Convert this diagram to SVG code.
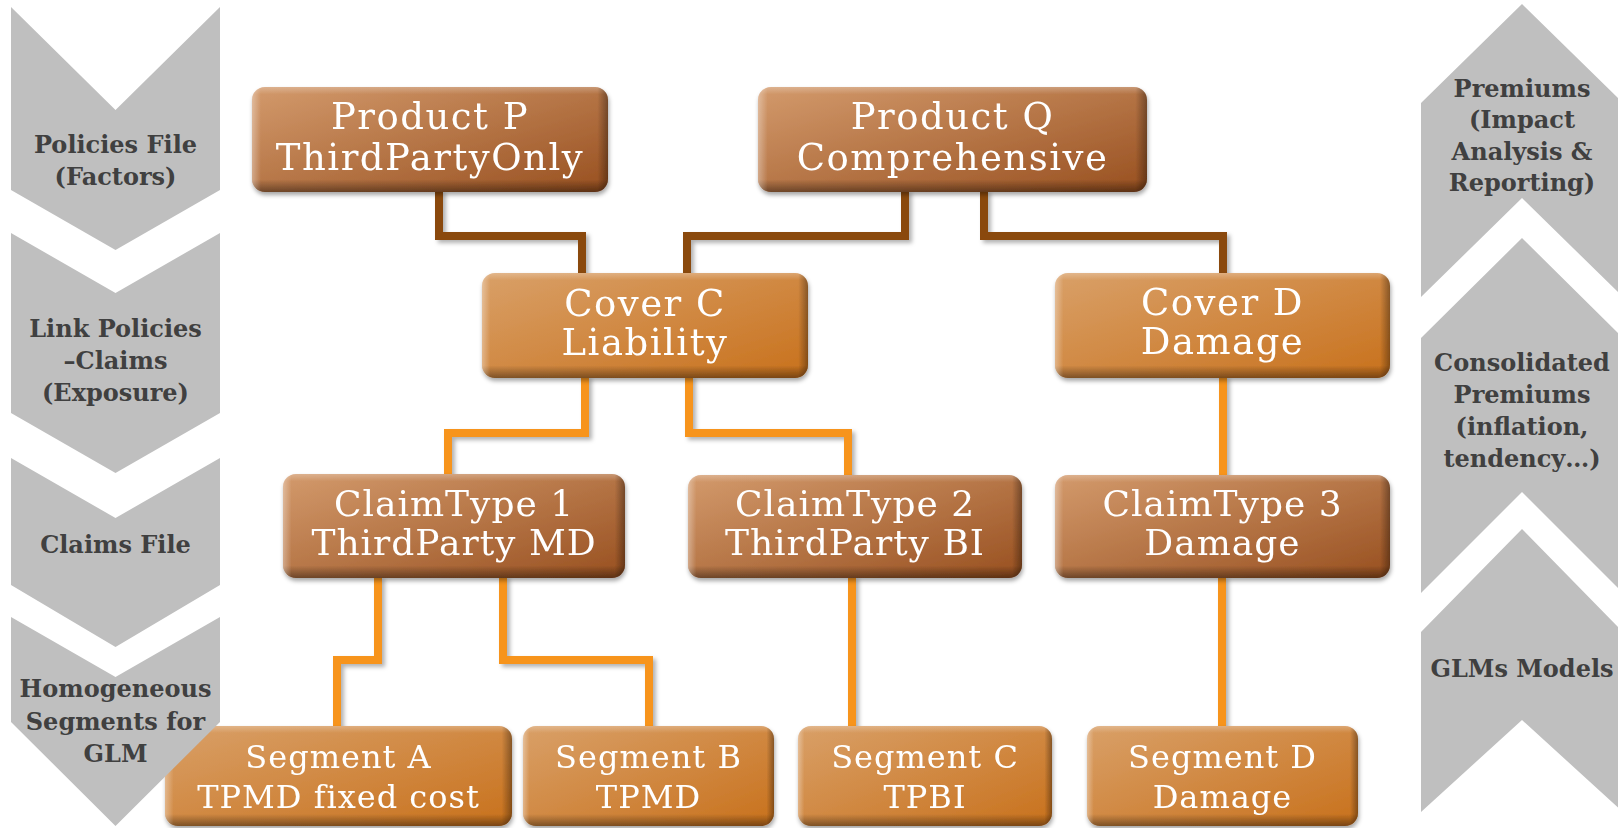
<svg xmlns="http://www.w3.org/2000/svg" width="1618" height="828" viewBox="0 0 1618 828">
  <defs>
    <linearGradient id="gBrown" x1="0" y1="0" x2="1" y2="1">
      <stop offset="0" stop-color="#d39a6c"/>
      <stop offset="1" stop-color="#985020"/>
    </linearGradient>
    <linearGradient id="gOrange" x1="0" y1="0" x2="1" y2="1">
      <stop offset="0" stop-color="#d9a068"/>
      <stop offset="1" stop-color="#c8711c"/>
    </linearGradient>
    <linearGradient id="bevelV" x1="0" y1="0" x2="0" y2="1">
      <stop offset="0" stop-color="#ffffff" stop-opacity="0.25"/>
      <stop offset="0.07" stop-color="#ffffff" stop-opacity="0"/>
      <stop offset="0.88" stop-color="#000000" stop-opacity="0"/>
      <stop offset="1" stop-color="#000000" stop-opacity="0.4"/>
    </linearGradient>
    <linearGradient id="bevelH" x1="0" y1="0" x2="1" y2="0">
      <stop offset="0" stop-color="#ffffff" stop-opacity="0.35"/>
      <stop offset="0.025" stop-color="#ffffff" stop-opacity="0"/>
      <stop offset="0.97" stop-color="#000000" stop-opacity="0"/>
      <stop offset="1" stop-color="#000000" stop-opacity="0.35"/>
    </linearGradient>
    <filter id="boxShadow" x="-5%" y="-10%" width="112%" height="125%">
      <feDropShadow dx="1" dy="3" stdDeviation="2" flood-color="#000" flood-opacity="0.35"/>
    </filter>
    <filter id="lineShadow" x="-5%" y="-5%" width="110%" height="110%">
      <feDropShadow dx="3" dy="3" stdDeviation="2" flood-color="#000" flood-opacity="0.3"/>
    </filter>
  </defs>
  <style>
    .chev { fill: #bfbfbf; }
    .step { font-family: "DejaVu Serif", serif; font-weight: bold; font-size: 24px; fill: #404040; text-anchor: middle; }
    .box { stroke: none; }
    .lbl { font-family: "DejaVu Serif", serif; font-size: 37px; fill: #ffffff; text-anchor: middle; letter-spacing: 1.5px; }
    .ct .lbl { font-size: 36px; letter-spacing: 1px; }
    .seg .lbl { font-size: 32px; letter-spacing: 1px; }
    .link { fill: none; stroke-width: 8; stroke-linejoin: miter; stroke-linecap: butt; }
    .upper { stroke: #8a4a0c; }
    .lower { stroke: #f7941e; }
  </style>

  <rect width="1618" height="828" fill="#ffffff"/>

  <!-- process steps, right column (pointing up) -->
  <g id="steps-right">
    <g id="step-premiums">
      <polygon class="chev" points="1421,103 1522,4 1623,103 1623,297 1522,198 1421,297"/>
      <text class="step" x="1522" y="97">Premiums</text>
      <text class="step" x="1522" y="128">(Impact</text>
      <text class="step" x="1522" y="160">Analysis &amp;</text>
      <text class="step" x="1522" y="191">Reporting)</text>
    </g>
    <g id="step-consolidated">
      <polygon class="chev" points="1421,338 1522,238 1623,338 1623,593 1522,492 1421,593"/>
      <text class="step" x="1522" y="371">Consolidated</text>
      <text class="step" x="1522" y="403">Premiums</text>
      <text class="step" x="1522" y="435">(inflation,</text>
      <text class="step" x="1522" y="467">tendency…)</text>
    </g>
    <g id="step-glm">
      <polygon class="chev" points="1421,632 1522,529 1623,632 1623,812 1522,720 1421,812"/>
      <text class="step" x="1522" y="677">GLMs Models</text>
    </g>
  </g>

  <!-- connectors -->
  <g id="connectors" filter="url(#lineShadow)">
    <path class="link upper" d="M439 190 V236 H582 V276"/>
    <path class="link upper" d="M905 190 V236 H687 V276"/>
    <path class="link upper" d="M984 190 V236 H1223 V276"/>
    <path class="link lower" d="M585 376 V433 H448 V477"/>
    <path class="link lower" d="M689 376 V433 H848 V478"/>
    <path class="link lower" d="M1223 376 V478"/>
    <path class="link lower" d="M378 576 V660 H337 V729"/>
    <path class="link lower" d="M503 576 V660 H649 V729"/>
    <path class="link lower" d="M852 576 V729"/>
    <path class="link lower" d="M1222 576 V729"/>
  </g>

  <!-- level 1: products -->
  <g id="product-p" filter="url(#boxShadow)">
    <rect class="box" x="252" y="87" width="356" height="105" rx="13" fill="url(#gBrown)"/>
    <rect x="252" y="87" width="356" height="105" rx="13" fill="url(#bevelV)"/>
    <rect x="252" y="87" width="356" height="105" rx="13" fill="url(#bevelH)"/>
    <text class="lbl" x="430" y="129">Product P</text>
    <text class="lbl" x="430" y="170">ThirdPartyOnly</text>
  </g>
  <g id="product-q" filter="url(#boxShadow)">
    <rect class="box" x="758" y="87" width="389" height="105" rx="13" fill="url(#gBrown)"/>
    <rect x="758" y="87" width="389" height="105" rx="13" fill="url(#bevelV)"/>
    <rect x="758" y="87" width="389" height="105" rx="13" fill="url(#bevelH)"/>
    <text class="lbl" x="952.5" y="129">Product Q</text>
    <text class="lbl" x="952.5" y="170">Comprehensive</text>
  </g>

  <!-- level 2: covers -->
  <g id="cover-c" filter="url(#boxShadow)">
    <rect class="box" x="482" y="273" width="326" height="105" rx="13" fill="url(#gOrange)"/>
    <rect x="482" y="273" width="326" height="105" rx="13" fill="url(#bevelV)"/>
    <rect x="482" y="273" width="326" height="105" rx="13" fill="url(#bevelH)"/>
    <text class="lbl" x="645" y="316">Cover C</text>
    <text class="lbl" x="645" y="355">Liability</text>
  </g>
  <g id="cover-d" filter="url(#boxShadow)">
    <rect class="box" x="1055" y="273" width="335" height="105" rx="13" fill="url(#gOrange)"/>
    <rect x="1055" y="273" width="335" height="105" rx="13" fill="url(#bevelV)"/>
    <rect x="1055" y="273" width="335" height="105" rx="13" fill="url(#bevelH)"/>
    <text class="lbl" x="1222.5" y="315">Cover D</text>
    <text class="lbl" x="1222.5" y="354">Damage</text>
  </g>

  <!-- level 3: claim types -->
  <g id="claimtype-1" class="ct" filter="url(#boxShadow)">
    <rect class="box" x="283" y="474" width="342" height="104" rx="13" fill="url(#gBrown)"/>
    <rect x="283" y="474" width="342" height="104" rx="13" fill="url(#bevelV)"/>
    <rect x="283" y="474" width="342" height="104" rx="13" fill="url(#bevelH)"/>
    <text class="lbl" x="454" y="516">ClaimType 1</text>
    <text class="lbl" x="454" y="555">ThirdParty MD</text>
  </g>
  <g id="claimtype-2" class="ct" filter="url(#boxShadow)">
    <rect class="box" x="688" y="475" width="334" height="103" rx="13" fill="url(#gBrown)"/>
    <rect x="688" y="475" width="334" height="103" rx="13" fill="url(#bevelV)"/>
    <rect x="688" y="475" width="334" height="103" rx="13" fill="url(#bevelH)"/>
    <text class="lbl" x="855" y="516">ClaimType 2</text>
    <text class="lbl" x="855" y="555">ThirdParty BI</text>
  </g>
  <g id="claimtype-3" class="ct" filter="url(#boxShadow)">
    <rect class="box" x="1055" y="475" width="335" height="103" rx="13" fill="url(#gBrown)"/>
    <rect x="1055" y="475" width="335" height="103" rx="13" fill="url(#bevelV)"/>
    <rect x="1055" y="475" width="335" height="103" rx="13" fill="url(#bevelH)"/>
    <text class="lbl" x="1222.5" y="516">ClaimType 3</text>
    <text class="lbl" x="1222.5" y="555">Damage</text>
  </g>

  <!-- level 4: segments -->
  <g id="segment-a" class="seg" filter="url(#boxShadow)">
    <rect class="box" x="165" y="726" width="347" height="100" rx="13" fill="url(#gOrange)"/>
    <rect x="165" y="726" width="347" height="100" rx="13" fill="url(#bevelV)"/>
    <rect x="165" y="726" width="347" height="100" rx="13" fill="url(#bevelH)"/>
    <text class="lbl" x="338.5" y="768">Segment A</text>
    <text class="lbl" x="338.5" y="808">TPMD fixed cost</text>
  </g>
  <g id="segment-b" class="seg" filter="url(#boxShadow)">
    <rect class="box" x="523" y="726" width="251" height="100" rx="13" fill="url(#gOrange)"/>
    <rect x="523" y="726" width="251" height="100" rx="13" fill="url(#bevelV)"/>
    <rect x="523" y="726" width="251" height="100" rx="13" fill="url(#bevelH)"/>
    <text class="lbl" x="648.5" y="768">Segment B</text>
    <text class="lbl" x="648.5" y="808">TPMD</text>
  </g>
  <g id="segment-c" class="seg" filter="url(#boxShadow)">
    <rect class="box" x="798" y="726" width="254" height="100" rx="13" fill="url(#gOrange)"/>
    <rect x="798" y="726" width="254" height="100" rx="13" fill="url(#bevelV)"/>
    <rect x="798" y="726" width="254" height="100" rx="13" fill="url(#bevelH)"/>
    <text class="lbl" x="925" y="768">Segment C</text>
    <text class="lbl" x="925" y="808">TPBI</text>
  </g>
  <g id="segment-d" class="seg" filter="url(#boxShadow)">
    <rect class="box" x="1087" y="726" width="271" height="100" rx="13" fill="url(#gOrange)"/>
    <rect x="1087" y="726" width="271" height="100" rx="13" fill="url(#bevelV)"/>
    <rect x="1087" y="726" width="271" height="100" rx="13" fill="url(#bevelH)"/>
    <text class="lbl" x="1222.5" y="768">Segment D</text>
    <text class="lbl" x="1222.5" y="808">Damage</text>
  </g>

  <!-- process steps, left column (pointing down); drawn last so the bottom step sits over Segment A's corner -->
  <g id="steps-left">
    <g id="step-policies">
      <polygon class="chev" points="11,7 115.5,110 220,7 220,190 115.5,250 11,190"/>
      <text class="step" x="115.5" y="153">Policies File</text>
      <text class="step" x="115.5" y="185">(Factors)</text>
    </g>
    <g id="step-link">
      <polygon class="chev" points="11,233 115.5,293 220,233 220,413 115.5,473 11,413"/>
      <text class="step" x="115.5" y="337">Link Policies</text>
      <text class="step" x="115.5" y="369">–Claims</text>
      <text class="step" x="115.5" y="401">(Exposure)</text>
    </g>
    <g id="step-claims">
      <polygon class="chev" points="11,458 115.5,518 220,458 220,585 115.5,647 11,585"/>
      <text class="step" x="115.5" y="553">Claims File</text>
    </g>
    <g id="step-segments">
      <polygon class="chev" points="11,617 115.5,677 220,617 220,722 115.5,826 11,722"/>
      <text class="step" x="115.5" y="697">Homogeneous</text>
      <text class="step" x="115.5" y="730">Segments for</text>
      <text class="step" x="115.5" y="762">GLM</text>
    </g>
  </g>
</svg>
